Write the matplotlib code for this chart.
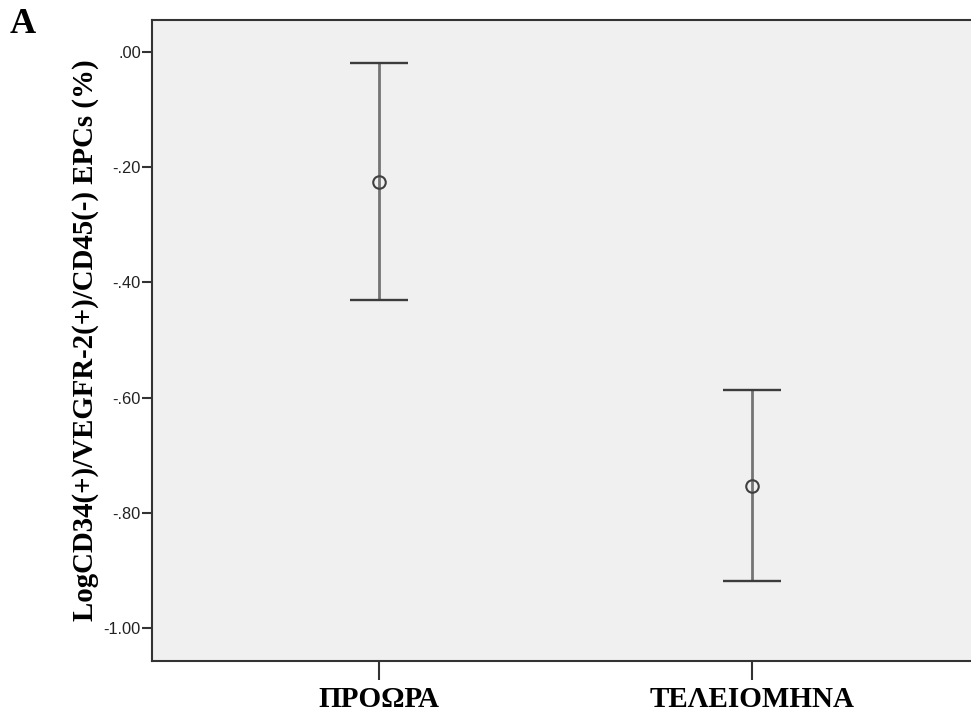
import numpy as np
import matplotlib.pyplot as plt

# Групи та середні значення з довірчими інтервалами
groups = ['ΠΡΟΩΡΑ', 'ΤΕΛΕΙΟΜΗΝΑ']
means = [-0.226, -0.753]
upper = [-0.019, -0.587]
lower = [-0.431, -0.918]
y_ticks = [0.0, -0.2, -0.4, -0.6, -0.8, -1.0]
y_tick_labels = ['.00', '-.20', '-.40', '-.60', '-.80', '-1.00']

fig = plt.figure(figsize=(9.71, 7.13), dpi=100)
ax = fig.add_axes([152 / 971, 52 / 713, 827 / 971, 641 / 713])
ax.set_facecolor('#f0f0f0')

x = np.arange(len(groups))
means = np.array(means)
yerr = [means - np.array(lower), np.array(upper) - means]

# Вертикальні лінії інтервалів
ax.errorbar(x, means, yerr=yerr, fmt='none', ecolor='#747474', elinewidth=2,
            capsize=0, zorder=2)
# Горизонтальні "шапки"
for xi, lo, hi in zip(x, lower, upper):
    ax.hlines([lo, hi], xi - 0.078, xi + 0.078, colors='#3c3c3c', linewidth=1.7, zorder=3)
# Середні - порожні кружечки
ax.plot(x, means, 'o', mfc='none', mec='#404040', ms=9, mew=1.5, zorder=4)

ax.set_xlim(-0.609, 1.609)
ax.set_ylim(-1.0567, 0.055)

ax.set_yticks(y_ticks)
ax.set_yticklabels(y_tick_labels, fontsize=11.8, family='Liberation Sans', color='#222222')
ax.set_xticks(x)
ax.set_xticklabels(groups, fontsize=21, family='Liberation Serif', fontweight='bold')

ax.tick_params(axis='y', length=7, width=1.5, color='#333333', pad=1)
ax.tick_params(axis='x', length=14, width=1.5, color='#333333', pad=4)

for side in ['left', 'bottom', 'top']:
    ax.spines[side].set_color('#333333')
    ax.spines[side].set_linewidth(1.5)
ax.spines['right'].set_visible(False)

ax.set_ylabel('LogCD34(+)/VEGFR-2(+)/CD45(-) EPCs (%)', fontsize=20.8,
              family='Liberation Serif', fontweight='bold')
ax.yaxis.set_label_coords(-0.064, 0.5)

fig.text(10 / 971, 1 - 33 / 713, 'A', fontsize=26, family='Liberation Serif',
         fontweight='bold')

plt.savefig('out.png', dpi=100)
